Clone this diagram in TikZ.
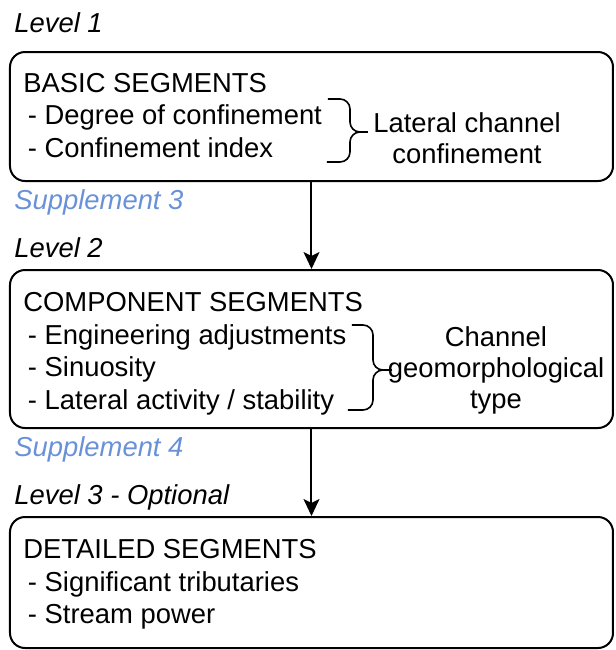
\documentclass[tikz,border=0pt]{standalone}
\usepackage{fontspec}
\setmainfont{Liberation Sans}
\usetikzlibrary{arrows.meta, positioning}
\definecolor{suppblue}{RGB}{105,145,215}

\begin{document}
\begin{tikzpicture}[x=0.5pt, y=-0.5pt,
    % Styles
    levelbox/.style={draw, line width=1pt, rounded corners=7.5pt, minimum width=301.5pt, inner sep=0pt},
    segtext/.style={align=left, font=\fontsize{13.7}{16.3}\selectfont, inner sep=0pt, anchor=north west},
    grouplabel/.style={align=center, font=\fontsize{13.7}{15.6}\selectfont, inner sep=0pt, anchor=north},
    leveltitle/.style={font=\fontsize{13.7}{16}\selectfont\itshape, inner sep=0pt, anchor=base west},
    supptitle/.style={leveltitle, text=suppblue},
    bracestyle/.style={line width=0.8pt, rounded corners=5pt},
    arrowstyle/.style={-{Stealth[length=8.5pt, width=8pt, inset=2pt]}, line width=1pt},
]
    \useasboundingbox (0,0) rectangle (616,650);

    % Level 1 box
    \node[leveltitle] (lvlone) at (14,32) {Level 1};
    \node[levelbox, minimum height=64.5pt] (basic) at (311.5,116.5) {};
    \node[segtext] (basictext) at (23,72.5) {BASIC SEGMENTS\\\,- Degree of confinement\\\,- Confinement index};
    \draw[bracestyle] (328,99) -| (350,132) -- (368,132);
    \draw[bracestyle] (327,162) -| (350,132) -- (368,132);
    \node[grouplabel] (lateral) at (467,112) {Lateral channel\\confinement};
    \node[supptitle] (suppthree) at (14,209) {Supplement 3};

    % Level 2 box
    \node[leveltitle] (lvltwo) at (14,257) {Level 2};
    \node[levelbox, minimum height=79pt] (component) at (311.5,349) {};
    \node[segtext] (comptext) at (23,292) {COMPONENT SEGMENTS\\\,- Engineering adjustments\\\,- Sinuosity\\\,- Lateral activity / stability};
    \draw[bracestyle] (352,325) -| (373,370) -- (392,370);
    \draw[bracestyle] (348,410) -| (373,370) -- (392,370);
    \node[grouplabel] (geomorph) at (496,326) {Channel\\geomorphological\\type};
    \node[supptitle] (suppfour) at (14,456) {Supplement 4};

    % Level 3 box
    \node[leveltitle] (lvlthree) at (14,504) {Level 3 - Optional};
    \node[levelbox, minimum height=65.5pt] (detailed) at (311.5,582.5) {};
    \node[segtext] (dettext) at (23,539) {DETAILED SEGMENTS\\\,- Significant tributaries\\\,- Stream power};

    % Arrows between levels
    \draw[arrowstyle] (basic.south) -- (component.north);
    \draw[arrowstyle] (component.south) -- (detailed.north);
\end{tikzpicture}
\end{document}
